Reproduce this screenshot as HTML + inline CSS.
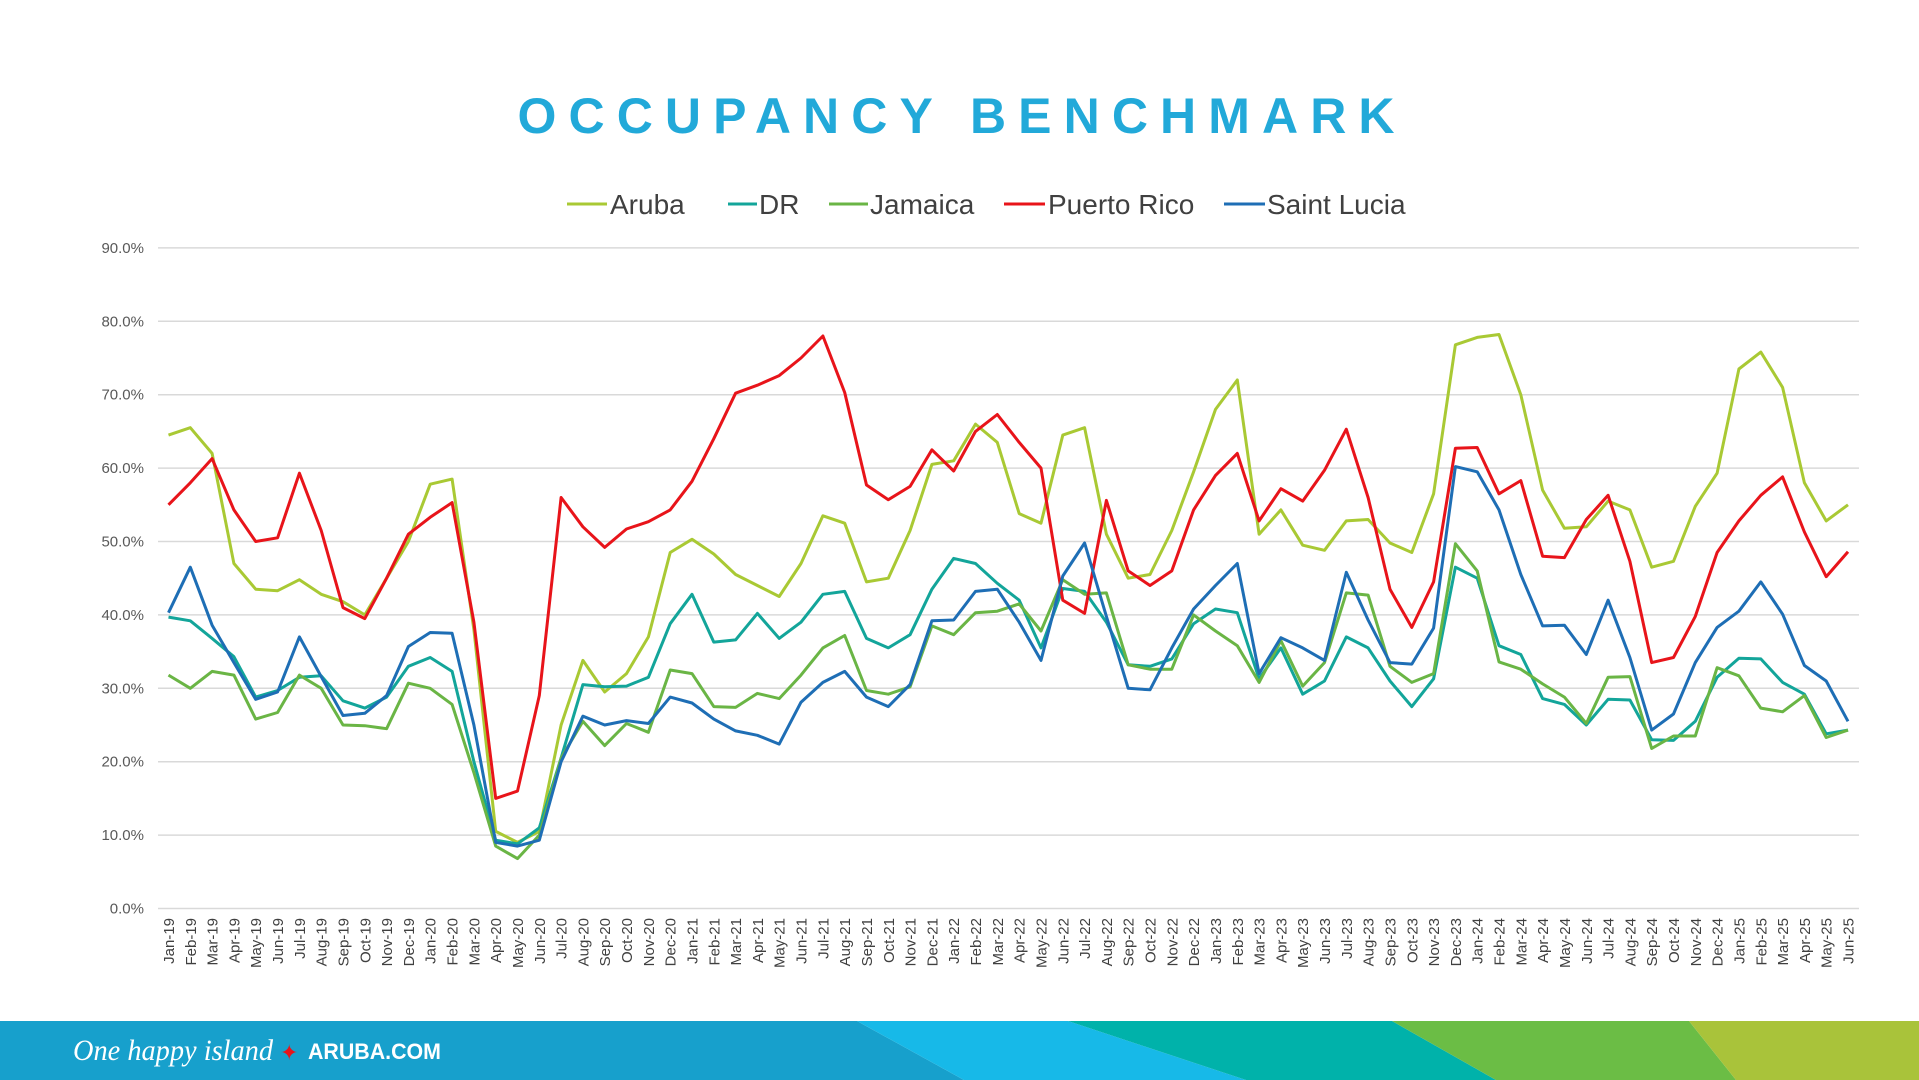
<!DOCTYPE html>
<html><head><meta charset="utf-8"><style>
html,body{margin:0;padding:0;background:#fff;}
svg{display:block;font-family:"Liberation Sans",Arial,sans-serif;}
</style></head><body>
<svg id="c" width="1919" height="1080" viewBox="0 0 1919 1080" xmlns="http://www.w3.org/2000/svg">
<text x="956" y="133" font-size="50" font-weight="bold" fill="#22a9d9" text-anchor="middle" textLength="877" lengthAdjust="spacing">OCCUPANCY BENCHMARK</text>
<g font-size="28" fill="#404040">
<line x1="567" y1="204" x2="607" y2="204" stroke="#a9c934" stroke-width="3"/><text x="610" y="214">Aruba</text>
<line x1="728" y1="204" x2="757" y2="204" stroke="#13a59a" stroke-width="3"/><text x="759" y="214">DR</text>
<line x1="829" y1="204" x2="868" y2="204" stroke="#6ab545" stroke-width="3"/><text x="870" y="214">Jamaica</text>
<line x1="1004" y1="204" x2="1045" y2="204" stroke="#e8141a" stroke-width="3"/><text x="1048" y="214">Puerto Rico</text>
<line x1="1224" y1="204" x2="1265" y2="204" stroke="#1e6eb5" stroke-width="3"/><text x="1267" y="214">Saint Lucia</text>
</g>
<g id="grid"></g><g id="lines"></g><g id="xl"></g>
<polygon points="0,1021 857,1021 964,1080 0,1080" fill="#17a0cc"/>
<polygon points="857,1021 1068,1021 1246,1080 964,1080" fill="#17b9e8"/>
<polygon points="1068,1021 1392,1021 1496,1080 1246,1080" fill="#00b2aa"/>
<polygon points="1392,1021 1689,1021 1736,1080 1496,1080" fill="#6bbd45"/>
<polygon points="1689,1021 1919,1021 1919,1080 1736,1080" fill="#a9c33a"/>
<text x="73" y="1060" font-size="30" font-style="italic" fill="#fff" font-family="Liberation Serif,serif" textLength="200" lengthAdjust="spacingAndGlyphs">One happy island</text>
<text x="280" y="1060" font-size="22" fill="#e8141a">✦</text>
<text x="308" y="1059" font-size="22" font-weight="bold" fill="#fff" textLength="133" lengthAdjust="spacingAndGlyphs">ARUBA.COM</text>
</svg>
<script>
const NS="http://www.w3.org/2000/svg";
const x0=168.5,dx=(1848-168.5)/77,y0=908.5,ppp=7.34;
const X=i=>x0+i*dx,Y=v=>y0-v*ppp;
const g=document.getElementById('grid');
function el(t,a,p,txt){const e=document.createElementNS(NS,t);for(const k in a)e.setAttribute(k,a[k]);if(txt)e.textContent=txt;p.appendChild(e);return e;}
for(let v=0;v<=90;v+=10){const y=Y(v);el('line',{x1:158,x2:1859,y1:y,y2:y,stroke:'#d9d9d9','stroke-width':1.5},g);
el('text',{x:144,y:y+5,'font-size':15,fill:'#595959','text-anchor':'end'},g,v.toFixed(1)+'%');}
const D={
"#a9c934":[64.5,65.5,62,47,43.5,43.3,44.8,42.8,41.8,40,45,50,57.8,58.5,38,10.5,9,10.5,25,33.8,29.5,32,37,48.5,50.3,48.3,45.5,44,42.5,47,53.5,52.5,44.5,45,51.5,60.5,61,66,63.5,53.8,52.5,64.5,65.5,51,45,45.5,51.5,59.5,68,72,51,54.3,49.5,48.8,52.8,53,49.8,48.5,56.5,76.8,77.8,78.2,70,57,51.8,52,55.5,54.3,46.5,47.3,54.8,59.3,73.5,75.8,71,58,52.8,55],
"#13a59a":[39.7,39.2,36.8,34.3,28.8,29.7,31.5,31.7,28.3,27.3,28.8,33,34.2,32.3,20,9.3,8.8,11,20.5,30.5,30.2,30.3,31.5,38.8,42.8,36.3,36.6,40.2,36.8,39,42.8,43.2,36.8,35.5,37.3,43.5,47.7,47,44.3,42,35.5,43.6,43.2,39,33.2,33,34,38.8,40.8,40.3,31.3,35.5,29.2,31,37,35.5,31,27.5,31.3,46.5,45,35.8,34.6,28.6,27.8,25,28.5,28.4,23,22.9,25.5,31.5,34.1,34,30.8,29.2,23.8,24.3],
"#6ab545":[31.8,30,32.3,31.8,25.8,26.7,31.8,30,25,24.9,24.5,30.7,30,27.8,18.5,8.5,6.8,10,20.5,25.5,22.2,25.2,24,32.5,32,27.5,27.4,29.3,28.6,31.8,35.5,37.2,29.7,29.2,30.2,38.5,37.3,40.3,40.5,41.5,37.8,44.8,42.8,43,33.2,32.6,32.6,40,37.8,35.8,30.8,36.5,30.3,33.5,43,42.7,33,30.8,32,49.7,46,33.6,32.6,30.6,28.8,25.2,31.5,31.6,21.8,23.5,23.5,32.8,31.7,27.3,26.8,29,23.3,24.3],
"#e8141a":[55,58,61.3,54.3,50,50.5,59.3,51.5,41,39.5,45,51,53.3,55.3,39,15,16,29,56,52,49.2,51.7,52.7,54.3,58.2,64,70.2,71.3,72.6,75,78,70.3,57.7,55.7,57.5,62.5,59.6,65,67.3,63.5,60,42,40.2,55.6,46,44,46,54.3,59,62,52.8,57.2,55.5,59.7,65.3,56,43.5,38.3,44.5,62.7,62.8,56.5,58.3,48,47.8,53,56.3,47.3,33.5,34.2,39.8,48.5,52.8,56.3,58.8,51.3,45.2,48.6],
"#1e6eb5":[40.3,46.5,38.6,33.5,28.5,29.5,37,31.6,26.3,26.6,29,35.7,37.6,37.5,25,9,8.5,9.3,20,26.2,25,25.6,25.2,28.8,28,25.8,24.2,23.6,22.4,28.1,30.8,32.3,28.8,27.5,30.5,39.2,39.3,43.2,43.5,39,33.8,45.3,49.8,39.8,30,29.8,35.5,40.8,44,47,32,36.9,35.5,33.8,45.8,39.3,33.5,33.3,38.2,60.2,59.5,54.3,45.5,38.5,38.6,34.6,42,34.2,24.3,26.5,33.5,38.3,40.5,44.5,40.1,33.1,31,25.5]};
const L=document.getElementById('lines');
for(const c in D){el('polyline',{points:D[c].map((v,i)=>X(i).toFixed(1)+','+Y(v).toFixed(1)).join(' '),fill:'none',stroke:c,'stroke-width':3,'stroke-linejoin':'round'},L);}
const M=['Jan','Feb','Mar','Apr','May','Jun','Jul','Aug','Sep','Oct','Nov','Dec'];
const xl=document.getElementById('xl');
for(let i=0;i<78;i++){const lab=M[i%12]+'-'+(19+Math.floor(i/12));const x=X(i)+5.5;
el('text',{x:0,y:0,'font-size':15,fill:'#404040','text-anchor':'end',transform:`translate(${x.toFixed(1)},918) rotate(-90)`},xl,lab);}
</script>
</body></html>
